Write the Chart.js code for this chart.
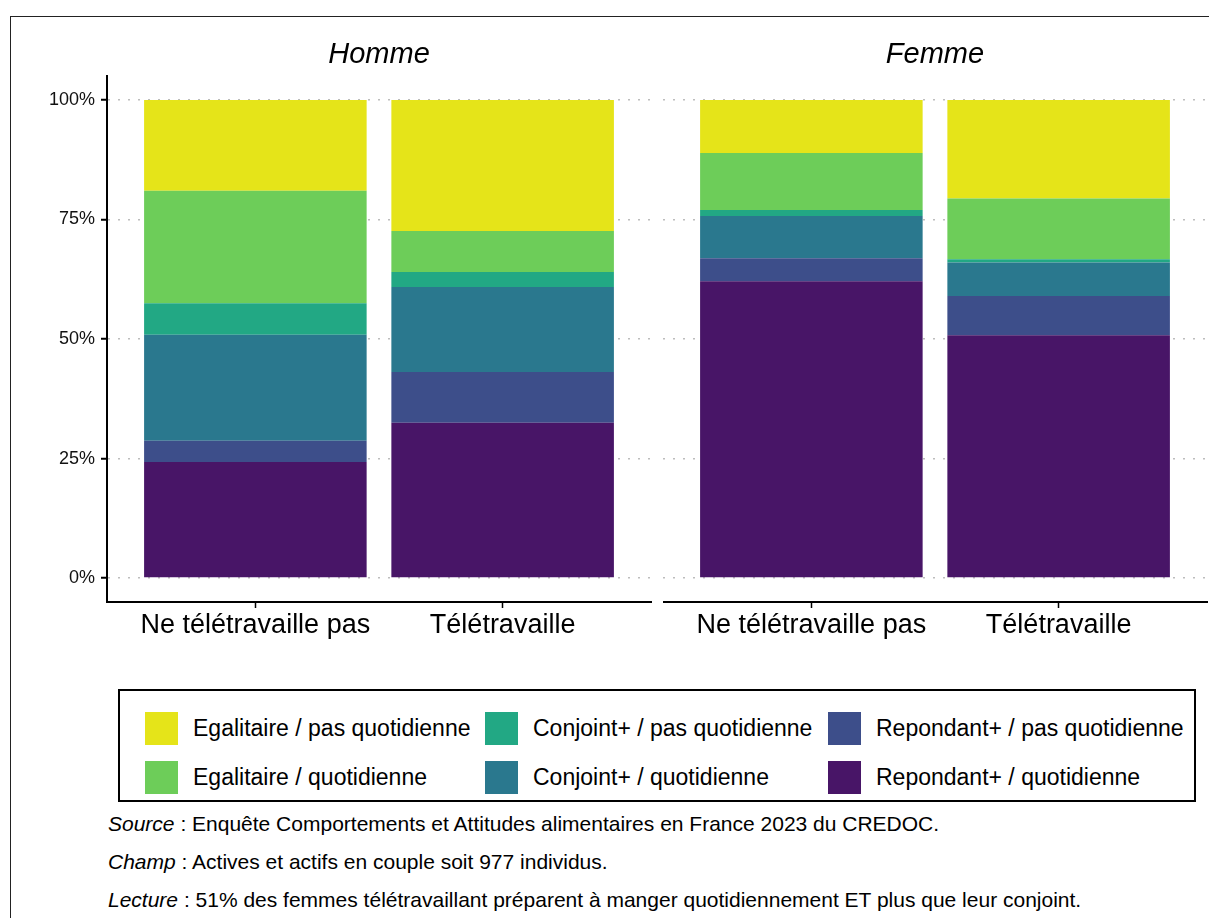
<!DOCTYPE html>
<html lang="fr">
<head>
<meta charset="utf-8">
<title>Répartition de la préparation des repas</title>
<script src="https://cdn.jsdelivr.net/npm/chart.js@4.4.1/dist/chart.umd.min.js"></script>
<style>
  html, body { margin: 0; padding: 0; background: #fff; overflow: hidden; }
  body { width: 1209px; height: 918px; position: relative; font-family: 'Liberation Sans', Arial, sans-serif; color: #000; }
  #frame { position: absolute; left: 10px; top: 16px; width: 1400px; height: 1000px; border: 1.5px solid #222; }
  #panel-homme { position: absolute; left: 0; top: 0; }
  #panel-femme { position: absolute; left: 663px; top: 0; }
  #legend {
    position: absolute; left: 118px; top: 689px; width: 1049px; height: 96px;
    padding: 13px 0 0 25px;
    border: 2px solid #000; box-sizing: content-box;
    display: grid; grid-auto-flow: column;
    grid-template-rows: 49px 49px; grid-template-columns: 340px 343px auto;
  }
  .legend-item { display: flex; align-items: center; font-size: 23px; white-space: nowrap; }
  .legend-key { width: 33px; height: 33px; margin-right: 15px; flex: none; }
  .caption { position: absolute; left: 108px; font-size: 21px; white-space: nowrap; line-height: 22px; }
</style>
</head>
<body>
<div id="frame"></div>
<canvas id="panel-homme" width="660" height="660"></canvas>
<canvas id="panel-femme" width="546" height="660"></canvas>
<div id="legend"></div>
<div class="caption" style="top: 813px;"><i>Source</i> : Enquête Comportements et Attitudes alimentaires en France 2023 du CREDOC.</div>
<div class="caption" style="top: 851px;"><i>Champ</i> : Actives et actifs en couple soit 977 individus.</div>
<div class="caption" style="top: 889px;"><i>Lecture</i> : 51% des femmes télétravaillant préparent à manger quotidiennement ET plus que leur conjoint.</div>

<script>
const panels = ['Homme', 'Femme']
const categories = ['Ne télétravaille pas', 'Télétravaille']
const yTicks = [0, 25, 50, 75, 100]

// series, bottom of the stack first
// values: Homme / Ne télétravaille pas, Homme / Télétravaille, Femme / Ne télétravaille pas, Femme / Télétravaille
const seriesLabels = [
  'Repondant+ / quotidienne',
  'Repondant+ / pas quotidienne',
  'Conjoint+ / quotidienne',
  'Conjoint+ / pas quotidienne',
  'Egalitaire / quotidienne',
  'Egalitaire / pas quotidienne'
]
const repondantQuotidienne = [24.3, 32.5, 62.1, 50.8]
const repondantPasQuotidienne = [4.4, 10.6, 4.8, 8.2]
const conjointQuotidienne = [22.2, 17.8, 8.8, 7.0]
const conjointPasQuotidienne = [6.6, 3.1, 1.3, 0.7]
const egalitaireQuotidienne = [23.5, 8.6, 11.9, 12.7]
const egalitairePasQuotidienne = [19.0, 27.4, 11.1, 20.6]
const seriesValues = [
  repondantQuotidienne,
  repondantPasQuotidienne,
  conjointQuotidienne,
  conjointPasQuotidienne,
  egalitaireQuotidienne,
  egalitairePasQuotidienne
]
const seriesColors = ['#481567', '#3d4e8a', '#2a788e', '#22a884', '#6dcd59', '#e5e419']

Chart.defaults.font.family = "'Liberation Sans', Arial, sans-serif"
Chart.defaults.color = '#000'

function buildPanel (canvasId, panelIndex, showAxis) {
  const start = panelIndex * categories.length
  const datasets = seriesLabels.map((label, s) => ({
    label,
    data: seriesValues[s].slice(start, start + categories.length).map((v, i) => ({ x: i, y: v })),
    backgroundColor: seriesColors[s],
    borderWidth: 0,
    barPercentage: 0.9,
    categoryPercentage: 1
  }))

  return new Chart(document.getElementById(canvasId), {
    type: 'bar',
    data: { datasets },
    options: {
      responsive: false,
      animation: false,
      layout: { padding: { top: 35, right: showAxis ? 9 : 2, left: 0, bottom: 0 } },
      plugins: {
        legend: { display: false },
        tooltip: { enabled: false },
        title: {
          display: true,
          text: panels[panelIndex],
          fullSize: false,
          color: '#000',
          font: { size: 29, style: 'italic', weight: 'normal' },
          padding: { top: 3, bottom: 3.2 }
        }
      },
      scales: {
        x: {
          type: 'linear',
          min: -0.6,
          max: 1.6,
          offset: false,
          stacked: true,
          afterBuildTicks: (scale) => { scale.ticks = categories.map((c, i) => ({ value: i })) },
          ticks: {
            callback: (v) => categories[v],
            font: { size: 27 },
            color: '#000',
            padding: 1,
            maxRotation: 0,
            autoSkip: false
          },
          grid: { offset: false, drawOnChartArea: false, drawTicks: true, tickLength: 6, tickColor: '#000', tickWidth: 1.5 },
          border: { display: true, color: '#000', width: 2 },
          afterFit: (scale) => { scale.height = 58 }
        },
        y: {
          min: -5,
          max: 105,
          stacked: true,
          afterBuildTicks: (scale) => { scale.ticks = yTicks.map((v) => ({ value: v })) },
          ticks: {
            display: showAxis,
            callback: (v) => v + '%',
            font: { size: 18 },
            color: '#111',
            padding: 6
          },
          grid: {
            color: '#bdbdbd',
            lineWidth: 1.5,
            drawTicks: showAxis,
            tickLength: 6,
            tickColor: '#000',
            tickWidth: 2
          },
          border: { display: showAxis, color: '#000', width: 2, dash: [2, 8] },
          afterFit: (scale) => { scale.width = showAxis ? 107 : 0 }
        }
      }
    }
  })
}

buildPanel('panel-homme', 0, true)
buildPanel('panel-femme', 1, false)

// legend, filled column by column, top of the stack first
const legend = document.getElementById('legend')
for (let s = seriesLabels.length - 1; s >= 0; s--) {
  const item = document.createElement('div')
  item.className = 'legend-item'
  const key = document.createElement('span')
  key.className = 'legend-key'
  key.style.background = seriesColors[s]
  const text = document.createElement('span')
  text.textContent = seriesLabels[s]
  item.appendChild(key)
  item.appendChild(text)
  legend.appendChild(item)
}
</script>
</body>
</html>
